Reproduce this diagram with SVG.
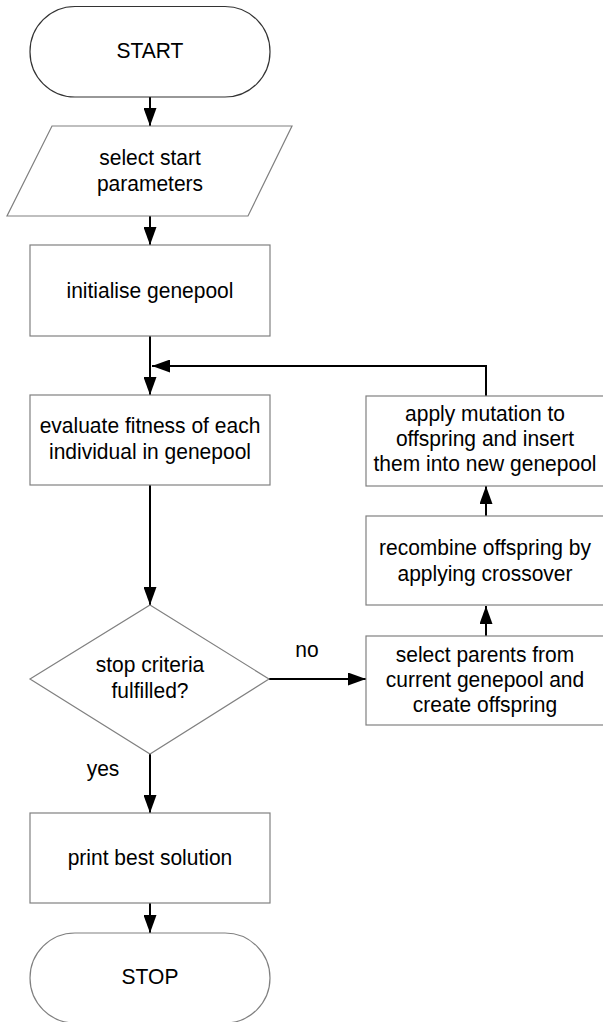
<svg xmlns="http://www.w3.org/2000/svg" width="603" height="1022" viewBox="0 0 603 1022">
<style>
.shape{fill:#fff;stroke:#808080;stroke-width:1.2}
.term{fill:#fff;stroke:#333;stroke-width:1.2}
.conn{fill:none;stroke:#000;stroke-width:2}
text{font-family:"Liberation Sans",Arial,sans-serif;font-size:22px;fill:#000;text-anchor:middle;transform-box:fill-box;transform-origin:center;transform:scaleX(0.955)}
</style>
<defs>
<marker id="arr" markerUnits="userSpaceOnUse" markerWidth="18" markerHeight="13" refX="18" refY="6.5" orient="auto">
<path d="M0,0 L18,6.5 L0,13 z" fill="#000"/>
</marker>
</defs>
<rect width="603" height="1022" fill="#fff"/>
<g id="connectors">
<path class="conn" d="M150,97 L150,126" marker-end="url(#arr)"/>
<path class="conn" d="M150,216 L150,245" marker-end="url(#arr)"/>
<path class="conn" d="M150,336 L150,395" marker-end="url(#arr)"/>
<path class="conn" d="M486,396 L486,366 L152,366" marker-end="url(#arr)"/>
<path class="conn" d="M150,485 L150,605" marker-end="url(#arr)"/>
<path class="conn" d="M269,679 L366,679" marker-end="url(#arr)"/>
<path class="conn" d="M486,636 L486,606" marker-end="url(#arr)"/>
<path class="conn" d="M486,516 L486,486" marker-end="url(#arr)"/>
<path class="conn" d="M150,754 L150,813" marker-end="url(#arr)"/>
<path class="conn" d="M150,903 L150,933" marker-end="url(#arr)"/>
</g>
<g id="start">
<rect class="term" x="30" y="6.5" width="240" height="90.5" rx="45" ry="45"/>
<text x="150" y="58">START</text>
</g>
<g id="params">
<polygon class="shape" points="52,126 292,126 248,216 7,216"/>
<text x="150" y="165">select start</text>
<text x="150" y="191">parameters</text>
</g>
<g id="init">
<rect class="shape" x="30" y="245" width="240" height="91"/>
<text x="150" y="298">initialise genepool</text>
</g>
<g id="evaluate">
<rect class="shape" x="30" y="395" width="240" height="90"/>
<text x="150" y="433">evaluate fitness of each</text>
<text x="150" y="459">individual in genepool</text>
</g>
<g id="decision">
<polygon class="shape" points="150,605 269,679 150,754 30,679"/>
<text x="150" y="672">stop criteria</text>
<text x="150" y="698">fulfilled?</text>
</g>
<g id="select">
<rect class="shape" x="366" y="636" width="238" height="89"/>
<text x="485" y="662">select parents from</text>
<text x="485" y="687">current genepool and</text>
<text x="485" y="712">create offspring</text>
</g>
<g id="recombine">
<rect class="shape" x="366" y="516" width="238" height="89"/>
<text x="485" y="555">recombine offspring by</text>
<text x="485" y="581">applying crossover</text>
</g>
<g id="mutation">
<rect class="shape" x="366" y="396" width="238" height="90"/>
<text x="485" y="421">apply mutation to</text>
<text x="485" y="446">offspring and insert</text>
<text x="485" y="471">them into new genepool</text>
</g>
<g id="print">
<rect class="shape" x="30" y="813" width="240" height="90"/>
<text x="150" y="865">print best solution</text>
</g>
<g id="stop">
<rect class="shape" x="30" y="933" width="240" height="90" rx="45" ry="45"/>
<text x="150" y="984">STOP</text>
</g>
<g id="labels">
<text x="307" y="657">no</text>
<text x="103" y="776">yes</text>
</g>
</svg>
